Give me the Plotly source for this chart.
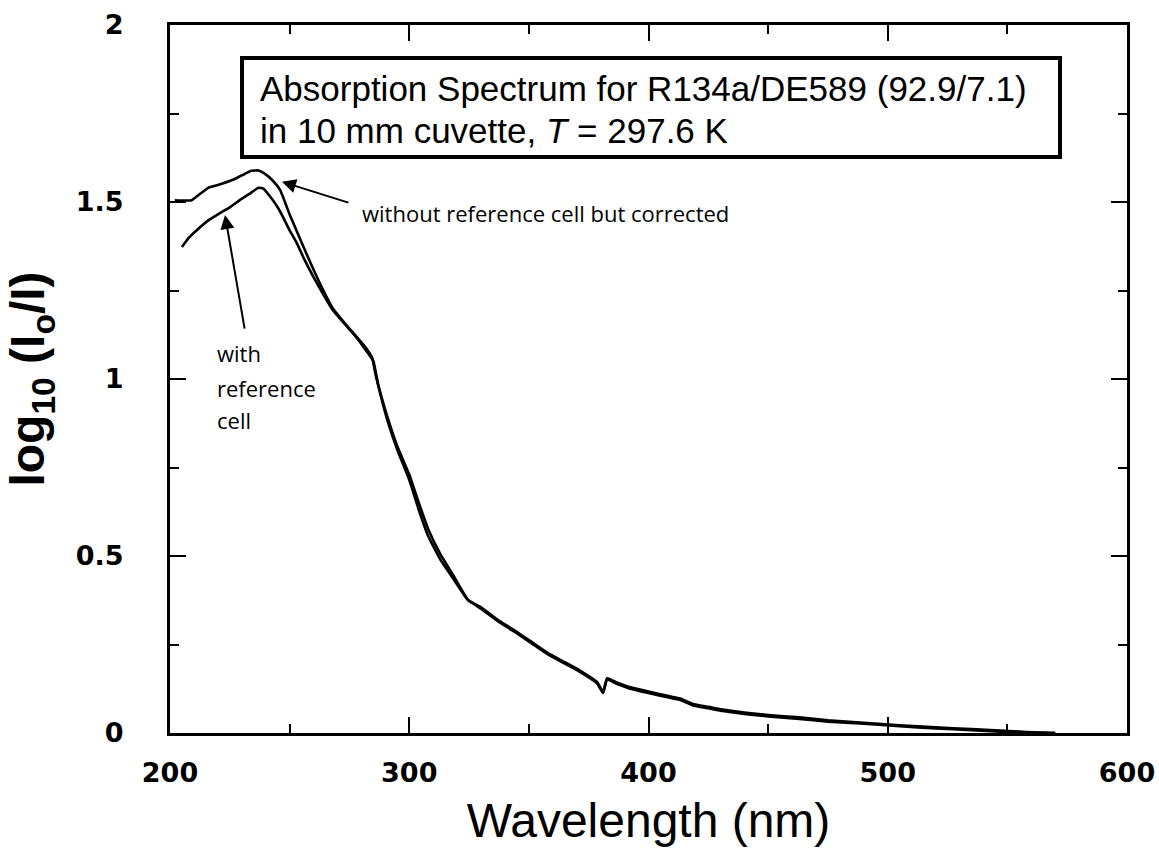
import plotly.graph_objects as go

# Absorption spectrum of R134a/DE589 (92.9/7.1), 10 mm cuvette, T = 297.6 K
wl_corrected = [202, 209, 212, 216, 220, 226, 230, 234, 237, 240, 243, 246, 250, 256,
                263, 268, 274, 278, 282, 284.5, 286, 288, 291, 295, 300, 304, 308, 313,
                318, 324.6, 330, 337, 344, 351, 358, 365, 371, 378.5, 381, 382.7, 387,
                392, 400, 408, 413, 418.6, 425, 431, 440, 450, 463, 475, 490, 505, 520,
                535, 547, 558, 570]
abs_corrected = [1.505, 1.505, 1.52, 1.54, 1.548, 1.562, 1.575, 1.588, 1.589, 1.578,
                 1.560, 1.534, 1.465, 1.370, 1.265, 1.200, 1.150, 1.119, 1.087, 1.060,
                 1.010, 0.955, 0.880, 0.800, 0.715, 0.630, 0.555, 0.490, 0.440, 0.375,
                 0.355, 0.320, 0.290, 0.258, 0.226, 0.200, 0.178, 0.144, 0.116, 0.155,
                 0.142, 0.130, 0.117, 0.105, 0.098, 0.082, 0.074, 0.066, 0.058, 0.051,
                 0.044, 0.036, 0.029, 0.022, 0.016, 0.011, 0.007, 0.003, 0.0]

wl_refcell = [205, 208, 211.3, 216, 221, 225, 229.3, 233, 237, 239, 242, 245, 247.2,
              250, 253, 256, 260, 264, 268, 274, 278, 282, 285, 287, 291, 295, 300,
              304, 308, 313, 318, 324.6, 330, 337, 344, 351, 358, 365, 371, 378.5, 381,
              382.7, 387, 392, 400, 408, 413, 418.6, 425, 431, 440, 450, 463, 475, 490,
              505, 520, 535, 547, 558, 570]
abs_refcell = [1.373, 1.40, 1.421, 1.448, 1.469, 1.485, 1.506, 1.522, 1.540, 1.538,
               1.514, 1.485, 1.458, 1.420, 1.384, 1.340, 1.288, 1.240, 1.195, 1.148,
               1.117, 1.080, 1.050, 0.985, 0.890, 0.810, 0.730, 0.650, 0.575, 0.505,
               0.450, 0.376, 0.351, 0.316, 0.286, 0.254, 0.222, 0.196, 0.174, 0.140,
               0.113, 0.151, 0.138, 0.126, 0.113, 0.101, 0.094, 0.078, 0.070, 0.062,
               0.054, 0.047, 0.040, 0.032, 0.026, 0.019, 0.013, 0.008, 0.004, 0.001, 0.0]

x_ticks = [200, 300, 400, 500, 600]
y_ticks = [0, 0.5, 1, 1.5, 2]
y_tick_text = ["0", "0.5", "1", "1.5", "2"]

fig = go.Figure()
for xs, ys in [(wl_corrected, abs_corrected), (wl_refcell, abs_refcell)]:
    fig.add_trace(go.Scatter(x=xs, y=ys, mode="lines",
                             line=dict(color="black", width=2.6, shape="spline", smoothing=0.4),
                             showlegend=False, hoverinfo="skip"))

tick_font = dict(family="DejaVu Sans", size=27, color="black", weight="bold")
axis_common = dict(showgrid=False, zeroline=False, showline=True, linecolor="black",
                   linewidth=3, mirror="allticks", ticks="inside", ticklen=16,
                   tickwidth=2, tickcolor="black", tickfont=tick_font)

fig.update_xaxes(range=[200, 600], tickvals=x_ticks, ticktext=[str(v) for v in x_ticks],
                 minor=dict(dtick=50, ticks="inside", ticklen=9, tickwidth=2, tickcolor="black"),
                 ticklabelstandoff=14,
                 title=dict(text="Wavelength (nm)", standoff=16,
                            font=dict(family="Liberation Sans", size=48, color="black")),
                 **axis_common)
fig.update_yaxes(range=[0, 2], tickvals=y_ticks, ticktext=y_tick_text,
                 minor=dict(dtick=0.25, ticks="inside", ticklen=9, tickwidth=2, tickcolor="black"),
                 ticklabelstandoff=38,
                 title=dict(text="log<sub>10</sub> (I<sub>o</sub>/I)", standoff=16,
                            font=dict(family="Liberation Sans", size=48, color="black", weight="bold")),
                 **axis_common)

# boxed caption: frame plus two text lines
fig.add_shape(type="rect", xref="x", yref="y", x0=230.1, x1=572.0, y0=1.627, y1=1.907,
              line=dict(color="black", width=4), fillcolor="white", layer="above")
caption_font = dict(family="Liberation Sans", size=35, color="black")
fig.add_annotation(x=236.8, y=1.822, xref="x", yref="y", showarrow=False, xanchor="left",
                   text="Absorption Spectrum for R134a/DE589 (92.9/7.1)", font=caption_font)
fig.add_annotation(x=236.8, y=1.703, xref="x", yref="y", showarrow=False, xanchor="left",
                   text="in 10 mm cuvette, <i>T</i> = 297.6 K", font=caption_font)

# curve labels with arrows pointing at each curve
label_font = dict(family="Open Sans", size=22, color="black")
arrow_style = dict(xref="x", yref="y", axref="x", ayref="y", text="", showarrow=True,
                   arrowhead=2, arrowsize=1.4, arrowwidth=2, arrowcolor="black")
fig.add_annotation(x=246.8, y=1.557, ax=275.2, ay=1.497, **arrow_style)
fig.add_annotation(x=279.4, y=1.469, xref="x", yref="y", showarrow=False,
                   xanchor="left", text="without reference cell but corrected", font=label_font)

fig.add_annotation(x=223.0, y=1.463, ax=231.3, ay=1.138, **arrow_style)
for line, yv in [("with", 1.073), ("reference", 0.975), ("cell", 0.884)]:
    fig.add_annotation(x=218.8, y=yv, xref="x", yref="y", showarrow=False,
                       xanchor="left", text=line, font=label_font)

fig.update_layout(width=1159, height=865, plot_bgcolor="white", paper_bgcolor="white",
                  margin=dict(l=170, r=32, t=25, b=132, autoexpand=False))

fig.write_html("out.html")
